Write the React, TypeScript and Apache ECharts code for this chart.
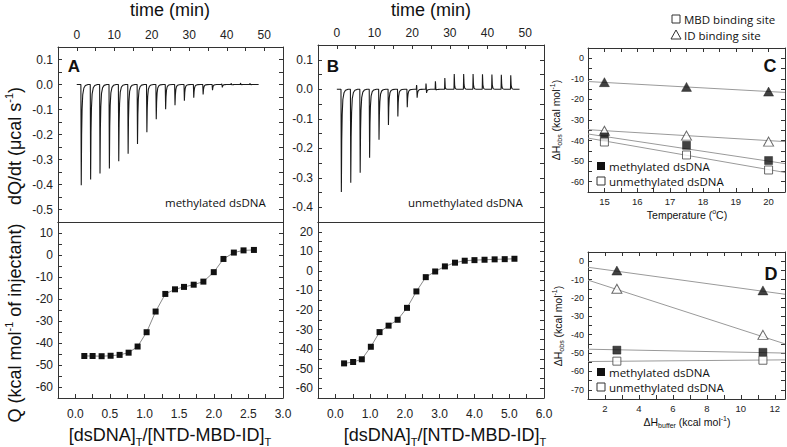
import React, { useEffect, useRef } from 'react';
import * as echarts from 'echarts';

// ---------- Data ----------
// Panel A/B thermograms (raw ITC power): injection times (min) and peak heights (µcal/s)
const injTimes = [1.1, 3.6, 6.1, 8.6, 11.1, 13.6, 16.1, 18.6, 21.1, 23.6, 26.1, 28.6, 31.1, 33.6, 36.1, 38.6, 41.1, 43.6, 46.1];
const peakDownA = [-0.403, -0.38, -0.356, -0.336, -0.307, -0.277, -0.238, -0.191, -0.139, -0.099, -0.083, -0.065, -0.053, -0.04, -0.023, -0.012, -0.004, -0.003, -0.003];
const peakUpA = [0, 0, 0, 0, 0, 0, 0, 0, 0, 0, 0, 0, 0, 0, 0, 0.003, 0.005, 0.006, 0.005];
const peakDownB = [-0.348, -0.317, -0.283, -0.232, -0.171, -0.121, -0.092, -0.061, -0.032, -0.017, -0.009, -0.005, -0.002, 0, 0, 0, 0, 0, 0];
const peakUpB = [0, 0, 0, 0, 0, 0, 0, 0, 0.014, 0.019, 0.027, 0.038, 0.052, 0.052, 0.052, 0.051, 0.05, 0.049, 0.047];
const traceEnd = 48.5;
// relative shape of one injection peak: [minutes after injection, fraction of peak]
const downShape = [[0, 0], [0.1, 1], [0.2, 0.5], [0.32, 0.25], [0.5, 0.1], [0.8, 0.035], [1.2, 0.01], [1.9, 0]];
const upShape = [[0, 0], [0.07, 1], [0.18, 0.3], [0.35, 0.06], [0.7, 0]];

// Panel A/B integrated heats
const ratioA = [0.13, 0.25, 0.38, 0.51, 0.64, 0.77, 0.9, 1.03, 1.16, 1.3, 1.44, 1.57, 1.71, 1.85, 2.0, 2.14, 2.29, 2.43, 2.58];
const heatA = [-45.9, -45.9, -46.0, -45.8, -45.4, -44.4, -41.6, -35.1, -25.7, -17.7, -15.6, -14.5, -13.5, -12.1, -7.8, -1.8, 1.1, 2.1, 2.3];
const ratioB = [0.25, 0.51, 0.76, 1.02, 1.27, 1.53, 1.79, 2.06, 2.33, 2.6, 2.87, 3.15, 3.44, 3.72, 4.0, 4.29, 4.58, 4.87, 5.15];
const heatB = [-47.3, -46.6, -45.2, -38.8, -31.3, -28.0, -25.0, -18.9, -10.5, -3.2, -0.3, 2.3, 4.2, 5.2, 5.5, 5.7, 5.9, 6.0, 6.2];

// Panel C: ΔHobs vs temperature
const tempsC = [15, 17.5, 20];
const idMethC = [-11.6, -13.9, -16.2];
const idUnmethC = [-35.2, -37.6, -40.5];
const mbdMethC = [-38.2, -42.3, -49.7];
const mbdUnmethC = [-40.7, -47.0, -54.3];
const fitXC = [14.5, 20.5];
const fitIdMethC = [-11.3, -16.6];
const fitIdUnmethC = [-34.7, -40.5];
const fitMbdMethC = [-36.8, -51.2];
const fitMbdUnmethC = [-38.8, -55.5];

// Panel D: ΔHobs vs ΔHbuffer
const bufD = [2.7, 11.3];
const idMethD = [-5.1, -15.9];
const idUnmethD = [-15.0, -40.1];
const mbdMethD = [-48.4, -49.6];
const mbdUnmethD = [-54.4, -53.9];
const fitXD = [1, 12.6];
const fitIdMethD = [-3.3, -18.0];
const fitIdUnmethD = [-10.3, -45.0];
const fitMbdMethD = [-47.9, -50.0];
const fitMbdUnmethD = [-54.6, -53.7];

// ---------- helpers ----------
const FONT = '"Liberation Sans", Arial, sans-serif';
const NOTE = '"Open Sans", "Noto Sans", sans-serif';
const AX = '#333';

const isMult = (v: number, step: number) => Math.abs(v / step - Math.round(v / step)) < 1e-6;
const fmtStep = (step: number, dec: number) => (v: number) =>
  isMult(v, step) ? (Math.abs(v) < 1e-9 ? 0 : v).toFixed(dec) : '';

function interp(shape: number[][], dt: number) {
  if (dt <= shape[0][0] || dt >= shape[shape.length - 1][0]) return 0;
  for (let i = 1; i < shape.length; i++) {
    if (dt <= shape[i][0]) {
      const [x0, y0] = shape[i - 1];
      const [x1, y1] = shape[i];
      return y0 + ((y1 - y0) * (dt - x0)) / (x1 - x0);
    }
  }
  return 0;
}

function buildTrace(times: number[], down: number[], up: number[], end: number) {
  const keys = new Set<number>([0, end]);
  times.forEach((t0, i) => {
    const delay = up[i] ? 0.12 : 0;
    downShape.forEach(([dt]) => keys.add(+(t0 + dt + delay).toFixed(3)));
    if (up[i]) upShape.forEach(([dt]) => keys.add(+(t0 + dt).toFixed(3)));
  });
  const ts = Array.from(keys).filter((t) => t >= 0 && t <= end).sort((a, b) => a - b);
  return ts.map((t) => {
    let v = 0;
    times.forEach((t0, i) => {
      const delay = up[i] ? 0.12 : 0;
      v += down[i] * interp(downShape, t - t0 - delay);
      if (up[i]) v += up[i] * interp(upShape, t - t0);
    });
    return [t, v];
  });
}

type AxCfg = { min: number; max: number; interval: number; fmt: (v: number) => string; fontSize: number; margin: number };

function xAxes(grid: number, c: AxCfg, labelPos: string, tickBottom = true, tickTop = true) {
  const mk = (position: string, tick: boolean) => ({
    type: 'value', gridIndex: grid, position, min: c.min, max: c.max, interval: c.interval,
    axisLine: { show: true, onZero: false, lineStyle: { color: AX, width: 1 } },
    axisTick: { show: tick, inside: true, length: 4, lineStyle: { color: AX } },
    splitLine: { show: false },
    axisLabel: { show: labelPos === position, formatter: c.fmt, fontSize: c.fontSize, color: '#222', fontFamily: FONT, margin: c.margin },
  });
  return [mk('bottom', tickBottom), mk('top', tickTop)];
}
function yAxes(grid: number, c: AxCfg) {
  const mk = (position: string) => ({
    type: 'value', gridIndex: grid, position, min: c.min, max: c.max, interval: c.interval,
    axisLine: { show: true, onZero: false, lineStyle: { color: AX, width: 1 } },
    axisTick: { show: true, inside: true, length: 4, lineStyle: { color: AX } },
    splitLine: { show: false },
    axisLabel: { show: position === 'left', formatter: c.fmt, fontSize: c.fontSize, color: '#222', fontFamily: FONT, margin: c.margin },
  });
  return [mk('left'), mk('right')];
}

const zip = (xs: number[], ys: number[]) => xs.map((x, i) => [x, ys[i]]);

function markers(g: number, xs: number[], ys: number[], symbol: string, filled: boolean, size: number | number[]) {
  return {
    type: 'scatter', xAxisIndex: 2 * g, yAxisIndex: 2 * g, data: zip(xs, ys), symbol, symbolSize: size, z: 5,
    itemStyle: filled ? { color: '#111', borderColor: '#111', borderWidth: 0.5 } : { color: '#fff', borderColor: '#444', borderWidth: 1 },
  };
}
function fitLine(g: number, xs: number[], ys: number[]) {
  return {
    type: 'line', xAxisIndex: 2 * g, yAxisIndex: 2 * g, data: zip(xs, ys), symbol: 'none', z: 3,
    lineStyle: { color: '#9a9a9a', width: 1 },
  };
}

function text(x: number, y: number, t: string, o: any = {}) {
  return {
    type: 'text', x, y, rotation: o.rotation || 0, z: 100,
    style: {
      text: t, fontSize: o.fontSize || 12, fontFamily: o.fontFamily || FONT, fontWeight: o.fontWeight || 'normal',
      fill: o.fill || '#111', align: o.align || 'center', verticalAlign: o.verticalAlign || 'middle',
      textAlign: o.align || 'center', textVerticalAlign: o.verticalAlign || 'middle',
      lineHeight: o.lineHeight, rich: o.rich,
    },
  };
}

const bigRich = {
  n: { fontSize: 18, fontFamily: FONT, lineHeight: 24, fill: '#111', color: '#111' },
  sup: { fontSize: 11, fontFamily: FONT, lineHeight: 24, verticalAlign: 'top', padding: [0, 0, 10, 0], fill: '#111', color: '#111' },
  sub: { fontSize: 11, fontFamily: FONT, lineHeight: 24, verticalAlign: 'bottom', padding: [8, 0, 0, 0], fill: '#111', color: '#111' },
};
const smallRich = {
  n: { fontSize: 10.5, fontFamily: FONT, lineHeight: 14, fill: '#111', color: '#111' },
  sup: { fontSize: 7, fontFamily: FONT, lineHeight: 14, verticalAlign: 'top', padding: [0, 0, 6, 0], fill: '#111', color: '#111' },
  sub: { fontSize: 7, fontFamily: FONT, lineHeight: 14, verticalAlign: 'bottom', padding: [5, 0, 0, 0], fill: '#111', color: '#111' },
};

function legendItem(x: number, y: number, label: string, shape: string, filled: boolean) {
  const items: any[] = [];
  if (shape === 'rect') {
    items.push({ type: 'rect', z: 100, shape: { x: x - 4, y: y - 4, width: 8, height: 8 }, style: filled ? { fill: '#111' } : { fill: '#fff', stroke: '#333', lineWidth: 1 } });
  } else {
    items.push({ type: 'polygon', z: 100, shape: { points: [[x, y - 5], [x - 5, y + 4], [x + 5, y + 4]] }, style: filled ? { fill: '#111' } : { fill: '#fff', stroke: '#333', lineWidth: 1 } });
  }
  items.push(text(x + 8, y, label, { fontSize: 11.5, fontFamily: NOTE, align: 'left' }));
  return items;
}

export default function App() {
  const ref = useRef<HTMLDivElement>(null);
  useEffect(() => {
    const chart = echarts.init(ref.current!, null, { renderer: 'svg' });

    const timeCfg: AxCfg = { min: -5, max: 55, interval: 5, fmt: fmtStep(10, 0), fontSize: 12, margin: 6 };
    const a1y: AxCfg = { min: -0.55, max: 0.15, interval: 0.05, fmt: fmtStep(0.1, 1), fontSize: 12, margin: 5 };
    const b1y: AxCfg = { min: -0.45, max: 0.15, interval: 0.05, fmt: fmtStep(0.1, 1), fontSize: 12, margin: 5 };
    const a2x: AxCfg = { min: -0.25, max: 3.0, interval: 0.25, fmt: fmtStep(0.5, 1), fontSize: 12, margin: 10 };
    const a2y: AxCfg = { min: -65, max: 15, interval: 5, fmt: fmtStep(10, 0), fontSize: 12, margin: 5 };
    const b2x: AxCfg = { min: -0.5, max: 6.0, interval: 0.5, fmt: fmtStep(1, 1), fontSize: 12, margin: 10 };
    const b2y: AxCfg = { min: -65, max: 25, interval: 5, fmt: fmtStep(10, 0), fontSize: 12, margin: 5 };
    const cx: AxCfg = { min: 14.5, max: 20.5, interval: 0.5, fmt: fmtStep(1, 0), fontSize: 9.5, margin: 4 };
    const cy: AxCfg = { min: -65, max: 5, interval: 5, fmt: fmtStep(10, 0), fontSize: 9, margin: 4 };
    const dx: AxCfg = { min: 1, max: 12.6, interval: 1, fmt: fmtStep(2, 0), fontSize: 9.5, margin: 4 };
    const dy: AxCfg = { min: -75, max: 5, interval: 5, fmt: fmtStep(10, 0), fontSize: 9, margin: 4 };

    const grids = [
      { left: 58, top: 47, width: 225, height: 175 },
      { left: 58, top: 222, width: 225, height: 176 },
      { left: 318, top: 45, width: 226, height: 177 },
      { left: 318, top: 222, width: 226, height: 176 },
      { left: 588, top: 48, width: 197, height: 144 },
      { left: 588, top: 252, width: 197, height: 147 },
    ].map((g) => ({ ...g, outerBoundsMode: 'none', containLabel: false }));

    const xAxis = [
      ...xAxes(0, timeCfg, 'top', false, true),
      ...xAxes(1, a2x, 'bottom', true, false),
      ...xAxes(2, timeCfg, 'top', false, true),
      ...xAxes(3, b2x, 'bottom', true, false),
      ...xAxes(4, cx, 'bottom'),
      ...xAxes(5, dx, 'bottom'),
    ];
    const yAxis = [
      ...yAxes(0, a1y), ...yAxes(1, a2y), ...yAxes(2, b1y), ...yAxes(3, b2y), ...yAxes(4, cy), ...yAxes(5, dy),
    ];

    const traceStyle = { color: '#1a1a1a', width: 1.1 };
    const series: any[] = [
      { type: 'line', xAxisIndex: 1, yAxisIndex: 0, data: buildTrace(injTimes, peakDownA, peakUpA, traceEnd), symbol: 'none', lineStyle: traceStyle },
      { type: 'line', xAxisIndex: 5, yAxisIndex: 4, data: buildTrace(injTimes, peakDownB, peakUpB, traceEnd), symbol: 'none', lineStyle: traceStyle },
      {
        type: 'line', xAxisIndex: 2, yAxisIndex: 2, data: zip(ratioA, heatA), symbol: 'rect', symbolSize: 6,
        lineStyle: { color: '#8a8a8a', width: 1 }, itemStyle: { color: '#111' },
      },
      {
        type: 'line', xAxisIndex: 6, yAxisIndex: 6, data: zip(ratioB, heatB), symbol: 'rect', symbolSize: 6,
        lineStyle: { color: '#8a8a8a', width: 1 }, itemStyle: { color: '#111' },
      },
      fitLine(4, fitXC, fitIdMethC), fitLine(4, fitXC, fitIdUnmethC), fitLine(4, fitXC, fitMbdMethC), fitLine(4, fitXC, fitMbdUnmethC),
      markers(4, tempsC, idMethC, 'triangle', true, [10, 9]),
      markers(4, tempsC, idUnmethC, 'triangle', false, [10, 9]),
      markers(4, tempsC, mbdMethC, 'rect', true, 8),
      markers(4, tempsC, mbdUnmethC, 'rect', false, 8),
      fitLine(5, fitXD, fitIdMethD), fitLine(5, fitXD, fitIdUnmethD), fitLine(5, fitXD, fitMbdMethD), fitLine(5, fitXD, fitMbdUnmethD),
      markers(5, bufD, idMethD, 'triangle', true, [10, 9]),
      markers(5, bufD, idUnmethD, 'triangle', false, [10, 9]),
      markers(5, bufD, mbdMethD, 'rect', true, 8),
      markers(5, bufD, mbdUnmethD, 'rect', false, 8),
    ];

    const graphic: any[] = [
      text(170, 10, 'time (min)', { fontSize: 18 }),
      text(431, 10, 'time (min)', { fontSize: 18 }),
      text(15, 146, '{n|dQ/dt (μcal s}{sup|-1}{n|)}', { rotation: Math.PI / 2, rich: bigRich }),
      text(15, 323, '{n|Q (kcal mol}{sup|-1}{n| of injectant)}', { rotation: Math.PI / 2, rich: bigRich }),
      text(170, 435, '{n|[dsDNA]}{sub|T}{n|/[NTD-MBD-ID]}{sub|T}', { rich: bigRich }),
      text(445, 435, '{n|[dsDNA]}{sub|T}{n|/[NTD-MBD-ID]}{sub|T}', { rich: bigRich }),
      text(74, 66, 'A', { fontSize: 17, fontWeight: 'bold' }),
      text(333, 66, 'B', { fontSize: 17, fontWeight: 'bold' }),
      text(770, 66, 'C', { fontSize: 18, fontWeight: 'bold' }),
      text(771, 274, 'D', { fontSize: 18, fontWeight: 'bold' }),
      text(165, 202, 'methylated dsDNA', { fontSize: 11.5, fontFamily: NOTE, align: 'left' }),
      text(408, 202, 'unmethylated dsDNA', { fontSize: 11.5, fontFamily: NOTE, align: 'left' }),
      text(687, 215, '{n|Temperature (}{sup|o}{n|C)}', { rich: smallRich }),
      text(687, 422, '{n|ΔH}{sub|buffer}{n| (kcal mol}{sup|-1}{n|)}', { rich: smallRich }),
      text(556, 120, '{n|ΔH}{sub|obs}{n| (kcal mol}{sup|-1}{n|)}', { rotation: Math.PI / 2, rich: smallRich }),
      text(558, 326, '{n|ΔH}{sub|obs}{n| (kcal mol}{sup|-1}{n|)}', { rotation: Math.PI / 2, rich: smallRich }),
      ...legendItem(676, 19, 'MBD binding site', 'rect', false),
      ...legendItem(676, 35, 'ID binding site', 'tri', false),
      ...legendItem(601, 166, 'methylated dsDNA', 'rect', true),
      ...legendItem(601, 181, 'unmethylated dsDNA', 'rect', false),
      ...legendItem(601, 372, 'methylated dsDNA', 'rect', true),
      ...legendItem(601, 387, 'unmethylated dsDNA', 'rect', false),
    ];

    chart.setOption({
      animation: false,
      backgroundColor: '#fff',
      grid: grids,
      xAxis,
      yAxis,
      series,
      graphic,
    });
    return () => chart.dispose();
  }, []);
  return <div ref={ref} style={{ position: 'fixed', left: 0, top: 0, width: 787, height: 447, background: '#fff' }} />;
}
